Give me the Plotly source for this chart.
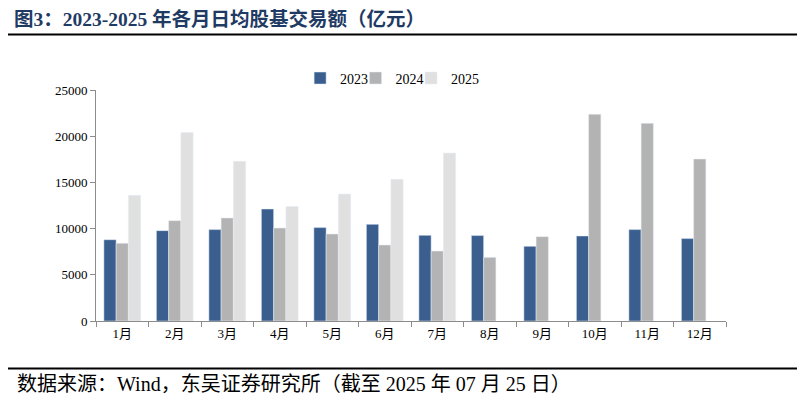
import plotly.graph_objects as go

# data (亿元)
months = ['1月', '2月', '3月', '4月', '5月', '6月', '7月', '8月', '9月', '10月', '11月', '12月']
y2023 = [8800, 9780, 9890, 12120, 10110, 10460, 9270, 9240, 8080, 9200, 9890, 8920]
y2024 = [8410, 10860, 11150, 10060, 9410, 8220, 7570, 6890, 9130, 22370, 21390, 17530]
y2025 = [13600, 20390, 17280, 12380, 13740, 15330, 18180, None, None, None, None, None]

serif = 'Times New Roman, Liberation Serif, Noto Sans CJK SC'

fig = go.Figure()
fig.add_trace(go.Bar(x=months, y=y2023, name='2023', marker=dict(color='#3a5f8f'), legend='legend'))
fig.add_trace(go.Bar(x=months, y=y2024, name='2024', marker=dict(color='#b3b3b3'), legend='legend2'))
fig.add_trace(go.Bar(x=months, y=y2025, name='2025', marker=dict(color='#e0e0e0'), legend='legend3'))

leg = dict(orientation='h', xanchor='left', y=1.05, yanchor='middle',
           font=dict(size=14), itemwidth=30, bgcolor='rgba(0,0,0,0)')

# page body has an 8px margin, so margins are shifted by -8
fig.update_layout(
    width=805, height=403,
    margin=dict(l=88, r=87, t=82, b=90),
    paper_bgcolor='white', plot_bgcolor='white',
    barmode='group', bargap=0.3, bargroupgap=0,
    font=dict(family=serif, size=13, color='black'),
    showlegend=True,
    legend=dict(leg, x=0.324),
    legend2=dict(leg, x=0.412),
    legend3=dict(leg, x=0.500),
)

fig.update_xaxes(
    showline=True, linecolor='#8c8c8c', linewidth=1,
    ticks='outside', tickson='boundaries', ticklen=5, tickcolor='#8c8c8c',
    showgrid=False, tickfont=dict(size=13),
)
fig.update_yaxes(
    range=[0, 25000], dtick=5000, tickformat='d', showline=True, linecolor='#8c8c8c', linewidth=1,
    ticks='outside', ticklen=5, tickcolor='#8c8c8c', showgrid=False, zeroline=False,
    tickfont=dict(size=13),
)

# title, rules and source note
fig.add_annotation(text='<b>图3：2023-2025 年各月日均股基交易额（亿元）</b>', xref='paper', yref='paper',
                   x=-0.133, y=1.307, xanchor='left', yanchor='middle', showarrow=False,
                   font=dict(size=19.5, color='#1f3b64', family=serif))
fig.add_shape(type='line', xref='paper', yref='paper', x0=-0.1444, x1=1.1175, y0=1.24, y1=1.24,
              line=dict(color='black', width=2))
fig.add_shape(type='line', xref='paper', yref='paper', x0=-0.1444, x1=1.1175, y0=-0.2056, y1=-0.2056,
              line=dict(color='black', width=2))
fig.add_annotation(text='数据来源：Wind，东吴证券研究所（截至 2025 年 07 月 25 日）', xref='paper', yref='paper',
                   x=-0.1286, y=-0.273, xanchor='left', yanchor='middle', showarrow=False,
                   font=dict(size=20, color='black', family=serif))

fig.write_html("out.html")
